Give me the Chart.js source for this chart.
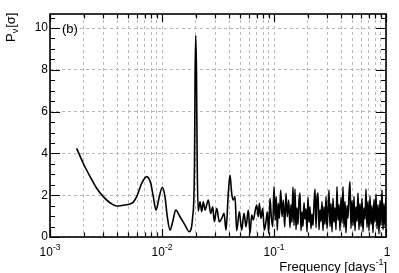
<!DOCTYPE html>
<html>
<head>
<meta charset="utf-8">
<script src="https://cdn.jsdelivr.net/npm/chart.js@4"></script>
<style>
html, body { margin: 0; padding: 0; background: #fff; }
</style>
</head>
<body>
<canvas id="myChart" width="399" height="273"></canvas>
<script>
// periodogram: frequency [1/day] and power [sigma]
const freq = [
  0.00173, 0.00198, 0.00228, 0.00261, 0.00299, 0.00343, 0.00394, 0.00451, 0.00518, 0.00557,
  0.00594, 0.00659, 0.00730, 0.00793, 0.00836, 0.00884, 0.00946, 0.01006, 0.01063, 0.01115,
  0.01179, 0.01246, 0.01326, 0.01448, 0.01605, 0.01753, 0.01879, 0.01951, 0.01975, 0.02003,
  0.02032, 0.02062, 0.02104, 0.02184, 0.02262, 0.02338, 0.02421, 0.02591, 0.02722, 0.02836,
  0.02931, 0.03080, 0.03248, 0.03412, 0.03578, 0.03728, 0.03908, 0.04046, 0.04190, 0.04331,
  0.04485, 0.04645, 0.04900, 0.05147, 0.05396, 0.05623, 0.05895, 0.06105, 0.06322, 0.06534,
  0.06767, 0.07006, 0.07241, 0.07392, 0.07654, 0.07926, 0.08192, 0.08483, 0.08713, 0.08967,
  0.09210, 0.09460, 0.09737, 0.1000, 0.1027, 0.1048, 0.1070, 0.1092, 0.1115, 0.1148,
  0.1179, 0.1211, 0.1246, 0.1280, 0.1315, 0.1353,
  0.1389, 0.1418, 0.1447, 0.1477, 0.1508, 0.1540, 0.1572, 0.1604, 0.1638, 0.1672,
  0.1707, 0.1742, 0.1778, 0.1815, 0.1853, 0.1891, 0.1931, 0.1971, 0.2012, 0.2054,
  0.2096, 0.2140, 0.2185, 0.2230, 0.2277, 0.2324, 0.2372, 0.2422, 0.2472, 0.2523,
  0.2576, 0.2628, 0.2683, 0.2738, 0.2795, 0.2853, 0.2913, 0.2973, 0.3035, 0.3098,
  0.3162, 0.3228, 0.3295, 0.3363, 0.3433, 0.3504, 0.3577, 0.3651, 0.3727, 0.3805,
  0.3884, 0.3964, 0.4047, 0.4131, 0.4217, 0.4304, 0.4394, 0.4485, 0.4578, 0.4673,
  0.4770, 0.4869, 0.4970, 0.5074, 0.5179, 0.5287, 0.5396, 0.5508, 0.5623, 0.5740,
  0.5859, 0.5981, 0.6105, 0.6232, 0.6361, 0.6493, 0.6628, 0.6766, 0.6906, 0.7050,
  0.7196, 0.7346, 0.7498, 0.7654, 0.7813, 0.7976, 0.8141, 0.8311, 0.8483, 0.8660,
  0.8840, 0.9023, 0.9211, 0.9402, 0.9598, 0.9797, 1.0
];
const power = [
  4.24, 3.53, 2.89, 2.33, 1.93, 1.64, 1.48, 1.52, 1.58, 1.68,
  1.93, 2.57, 2.89, 2.57, 1.93, 1.29, 1.93, 2.38, 1.93, 0.97,
  0.33, 0.73, 1.29, 0.97, 0.57, 0.25, 0.97, 3.50, 7.80, 9.65,
  7.80, 3.50, 1.25, 1.69, 1.21, 1.69, 1.29, 1.77, 1.13, 1.45,
  0.73, 1.37, 0.73, 0.89, 1.13, 0.33, 2.09, 2.97, 2.09, 1.77,
  1.93, 0.30, 1.21, 0.33, 1.13, 0.49, 1.29, 0.18, 1.05, 0.81,
  1.21, 1.53, 0.97, 1.61, 0.89, 1.37, 0.33, 0.73, 1.21, 0.18,
  1.85, 0.97, 0.49, 2.41, 0.81, 1.93, 0.33, 1.61, 0.89, 2.25,
  0.97, 1.77, 0.49, 2.09, 0.97, 1.77,
  0.45, 1.55, 0.70, 2.39, 0.55, 2.30, 0.35, 1.40, 0.60, 1.75,
  2.10, 0.30, 1.20, 0.50, 1.65, 0.85, 1.35, 0.25, 1.90, 0.70,
  1.45, 0.40, 1.10, 0.55, 1.60, 2.30, 0.45, 1.85, 2.10, 0.35,
  1.30, 0.75, 1.70, 0.30, 1.45, 0.60, 1.95, 0.40, 1.25, 2.25,
  0.50, 1.60, 0.25, 1.85, 0.70, 1.40, 0.35, 2.40, 0.80, 1.55,
  0.30, 1.90, 0.65, 2.40, 0.45, 1.70, 0.20, 1.50, 0.90, 2.05,
  2.65, 0.40, 1.75, 0.55, 1.95, 0.30, 1.45, 0.75, 2.10, 0.35,
  1.60, 0.50, 1.85, 0.25, 1.40, 0.85, 2.30, 0.45, 1.70, 0.30,
  1.95, 0.60, 1.50, 0.20, 1.80, 0.70, 2.05, 0.40, 1.55, 0.15,
  1.75, 0.55, 2.25, 0.35, 1.60, 0.50, 1.90
];

// axis labels
const decades = [0.001, 0.01, 0.1, 1];
const decadeExp = ['-3', '-2', '-1', ''];
const xGrid = [];
decades.forEach(function(d) {
  for (let k = 1; k <= 9; k++) {
    if (d * k <= 1) xGrid.push(d * k);
  }
});
const yMax = 10.67;
const panelLabel = '(b)';
const font = 'Liberation Sans, Arial, sans-serif';

const ctx = document.getElementById('myChart');

const frame = {
  id: 'frame',
  afterDraw: function(chart) {
    const c = chart.ctx;
    const a = chart.chartArea;
    const xs = chart.scales.x;
    const ys = chart.scales.y;
    c.save();
    c.strokeStyle = '#000';
    c.lineWidth = 1.2;

    // inward ticks
    c.beginPath();
    xGrid.forEach(function(v) {
      const px = Math.round(xs.getPixelForValue(v)) + 0.5;
      const len = decades.indexOf(v) >= 0 ? 8 : 4.5;
      c.moveTo(px, a.bottom); c.lineTo(px, a.bottom - len);
      c.moveTo(px, a.top); c.lineTo(px, a.top + len);
    });
    for (let v = 0; v <= 10.5; v += 0.5) {
      const py = Math.round(ys.getPixelForValue(v)) + 0.5;
      const len = v % 2 === 0 ? 10 : 5;
      c.moveTo(a.left, py); c.lineTo(a.left + len, py);
      c.moveTo(a.right, py); c.lineTo(a.right - len, py);
    }
    c.stroke();

    // box
    c.lineWidth = 1.6;
    c.strokeRect(a.left, a.top, a.right - a.left, a.bottom - a.top);

    // x tick labels with exponents
    c.fillStyle = '#000';
    c.textBaseline = 'alphabetic';
    c.textAlign = 'left';
    decades.forEach(function(d, i) {
      const px = xs.getPixelForValue(d);
      c.font = '12px ' + font;
      if (decadeExp[i] === '') {
        const w = c.measureText('1').width;
        c.fillText('1', px - w / 2 + 1, 256);
        return;
      }
      const w1 = c.measureText('10').width;
      c.font = '8.5px ' + font;
      const w2 = c.measureText(decadeExp[i]).width;
      const x0 = px - (w1 + w2) / 2;
      c.font = '12px ' + font;
      c.fillText('10', x0, 256);
      c.font = '8.5px ' + font;
      c.fillText(decadeExp[i], x0 + w1, 250);
    });

    // x title
    c.font = '13px ' + font;
    const t1 = 'Frequency [days';
    const wT1 = c.measureText(t1).width;
    const wB = c.measureText(']').width;
    c.font = '9px ' + font;
    const wS = c.measureText('-1').width;
    const tx = 387 - wB - wS - wT1;
    c.font = '13px ' + font;
    c.fillText(t1, tx, 271);
    c.font = '9px ' + font;
    c.fillText('-1', tx + wT1, 265);
    c.font = '13px ' + font;
    c.fillText(']', tx + wT1 + wS, 271);

    // y title, rotated
    c.translate(15, 42);
    c.rotate(-Math.PI / 2);
    c.font = '13px ' + font;
    c.fillText('P', 0, 0);
    const wP = c.measureText('P').width;
    c.font = '9px ' + font;
    c.fillText('\u03bd', wP, 3);
    const wN = c.measureText('\u03bd').width;
    c.font = '13px ' + font;
    c.fillText('[\u03c3]', wP + wN + 1, 0);
    c.restore();

    // panel label
    c.save();
    c.fillStyle = '#000';
    c.font = '13px ' + font;
    c.textBaseline = 'middle';
    c.fillText(panelLabel, 62, ys.getPixelForValue(10) + 1);
    c.restore();
  }
};

new Chart(ctx, {
  type: 'line',
  data: {
    datasets: [{
      data: freq.map(function(f, i) { return {x: f, y: power[i]}; }),
      borderColor: '#000',
      borderWidth: 1.6,
      pointRadius: 0,
      cubicInterpolationMode: 'monotone',
      fill: false
    }]
  },
  options: {
    responsive: false,
    animation: false,
    layout: {padding: {top: 14, right: 13, left: 0, bottom: 0}},
    plugins: {legend: {display: false}, tooltip: {enabled: false}},
    scales: {
      x: {
        type: 'logarithmic',
        min: 0.001,
        max: 1,
        afterBuildTicks: function(s) { s.ticks = xGrid.map(function(v) { return {value: v}; }); },
        afterFit: function(s) { s.height = 36; },
        grid: {color: '#b8b8b8', lineWidth: 1, drawTicks: false},
        border: {display: false, dash: [3, 3]},
        ticks: {display: false, autoSkip: false}
      },
      y: {
        min: 0,
        max: yMax,
        afterFit: function(s) { s.width = 50; },
        grid: {color: '#b8b8b8', lineWidth: 1, drawTicks: false},
        border: {display: false, dash: [3, 3]},
        ticks: {stepSize: 2, includeBounds: false, padding: 2, color: '#000', font: {family: font, size: 12}}
      }
    }
  },
  plugins: [frame]
});
</script>
</body>
</html>
